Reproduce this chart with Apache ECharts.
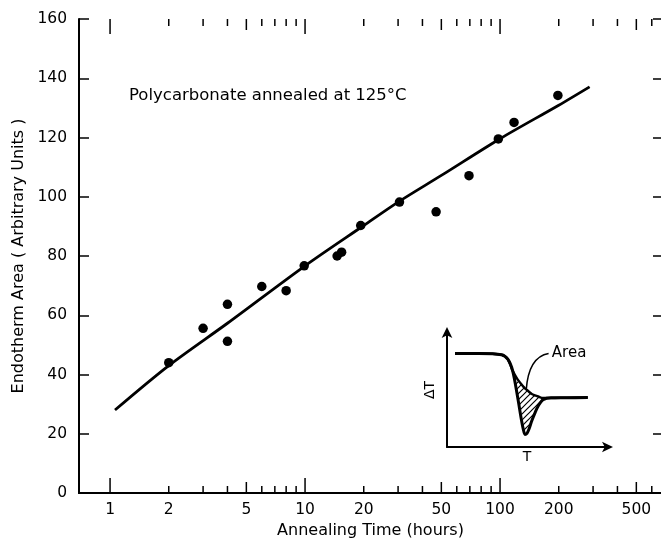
<!DOCTYPE html>
<html>
<head>
<meta charset="utf-8">
<script src="https://cdn.jsdelivr.net/npm/echarts@6/dist/echarts.min.js"></script>
<style>
html,body{margin:0;padding:0;background:#fff;}
#chart{width:661px;height:538px;}
</style>
</head>
<body>
<div id="chart"></div>
<script>
// ---- Main data (annealing time in hours, endotherm area in arbitrary units)
const pointTimes = [2, 3, 4, 4, 6, 8, 9.9, 14.6, 15.4, 19.3, 30.5, 47, 69.3, 98, 118, 198];
const pointAreas = [44, 55.6, 63.7, 51.2, 69.7, 68.3, 76.7, 80, 81.3, 90.3, 98.2, 94.9, 107.1, 119.5, 125.1, 134.2];

const fitTimes = [1.06, 2, 4, 10, 20, 30, 50, 100, 200, 288];
const fitAreas = [28, 43, 57.3, 76.7, 90.3, 98.2, 107.2, 119.6, 130.9, 137.1];

// ---- Axis ticks / labels
const xMajorTicks = [1, 10, 100];
const xMidTicks = [5, 50, 500];
const xMinorTicks = [2, 3, 4, 6, 7, 8, 9, 20, 30, 40, 60, 70, 80, 90, 200, 300, 400, 600];
const xTickLabels = [1, 2, 5, 10, 20, 50, 100, 200, 500];
const yTickLabels = [0, 20, 40, 60, 80, 100, 120, 140, 160];

// ---- Inset (schematic DTA trace)
const insetT = [5, 20, 34, 38, 41, 44, 46.5, 47.7, 48.75, 50, 51.2, 53, 55, 57, 60, 65, 75, 88];
const insetBaseline = [82, 82, 81, 77, 67, 59.5, 55, 53, 51.5, 50, 48.5, 46.5, 45.3, 44.3, 43, 43, 43.3, 43.5];
const insetTrace = [82, 82, 81, 77, 67, 45, 24, 15.5, 11, 12, 15.5, 23, 30, 36, 41.5, 43.3, 43.3, 43.5];
const hatchFrom = 20, hatchTo = 75;   // range of T where the hatched area is built
const leaderPts = [[63.5, 82], [51, 79], [49.5, 50]];
const areaLabelAt = [65.5, 82.5];

const FONT = 'DejaVu Sans';
const chart = echarts.init(document.getElementById('chart'), null, {renderer: 'canvas'});

// hatch pattern
const hatch = document.createElement('canvas');
hatch.width = 6; hatch.height = 6;
(function(){
  const c = hatch.getContext('2d');
  c.fillStyle = '#fff'; c.fillRect(0,0,6,6);
  c.strokeStyle = '#000'; c.lineWidth = 1.2;
  c.beginPath();
  c.moveTo(0,6); c.lineTo(6,0);
  c.moveTo(-3,3); c.lineTo(3,-3);
  c.moveTo(3,9); c.lineTo(9,3);
  c.stroke();
})();

const yMin = 0, yMax = 160;
const tickData = []
  .concat(xMajorTicks.map(v => [v, 0]))
  .concat(xMidTicks.map(v => [v, 1]))
  .concat(xMinorTicks.map(v => [v, 2]));
const tickLens = [15, 11, 7];

const hatchData = insetT.map((x, i) => [x, insetBaseline[i]]).filter(d => d[0] >= hatchFrom && d[0] <= hatchTo);

const option = {
  animation: false,
  backgroundColor: '#fff',
  textStyle: {fontFamily: FONT, color: '#000'},
  grid: [
    {left: 79, top: 19, width: 583, height: 474, outerBoundsMode: 'none', containLabel: false},
    {left: 447, top: 333, width: 160, height: 114, outerBoundsMode: 'none', containLabel: false}
  ],
  xAxis: [
    {type: 'log', logBase: 10, gridIndex: 0, min: 0.693, max: 677, position: 'bottom',
     axisLine: {show: true, lineStyle: {color: '#000', width: 2}},
     axisTick: {show: false}, axisLabel: {show: false}, splitLine: {show: false},
     name: 'Annealing Time (hours)', nameLocation: 'middle', nameGap: 30,
     nameTextStyle: {fontFamily: FONT, fontSize: 16, color: '#000'}},
    {type: 'log', logBase: 10, gridIndex: 0, min: 0.693, max: 677, position: 'top',
     axisLine: {show: true, lineStyle: {color: '#000', width: 2}},
     axisTick: {show: false}, axisLabel: {show: false}, splitLine: {show: false}},
    {type: 'value', gridIndex: 1, min: 0, max: 100,
     axisLine: {show: true, symbol: ['none', 'arrow'], symbolSize: [8, 11], symbolOffset: [0, 6], lineStyle: {color: '#000', width: 2}},
     axisTick: {show: false}, axisLabel: {show: false}, splitLine: {show: false},
     name: 'T', nameLocation: 'middle', nameGap: 3,
     nameTextStyle: {fontFamily: FONT, fontSize: 14, color: '#000', verticalAlign: 'top'}}
  ],
  yAxis: [
    {type: 'value', gridIndex: 0, min: yMin, max: yMax, interval: 20, position: 'left',
     axisLine: {show: true, lineStyle: {color: '#000', width: 2}},
     axisTick: {show: true, inside: true, length: 10, lineStyle: {color: '#000', width: 1.5}},
     axisLabel: {show: true, margin: 12, fontFamily: FONT, fontSize: 15.5, color: '#000',
       formatter: v => (yTickLabels.indexOf(v) >= 0 ? String(v) : '')},
     splitLine: {show: false},
     name: 'Endotherm Area ( Arbitrary Units )', nameLocation: 'middle', nameGap: 52, nameRotate: 90,
     nameTextStyle: {fontFamily: FONT, fontSize: 16, color: '#000'}},
    {type: 'value', gridIndex: 0, min: yMin, max: yMax, interval: 20, position: 'right',
     axisLine: {show: false},
     axisTick: {show: true, inside: true, length: 9, lineStyle: {color: '#000', width: 1.5}},
     axisLabel: {show: false}, splitLine: {show: false}},
    {type: 'value', gridIndex: 1, min: 0, max: 100,
     axisLine: {show: true, symbol: ['none', 'arrow'], symbolSize: [8, 11], symbolOffset: [0, 6], lineStyle: {color: '#000', width: 2}},
     axisTick: {show: false}, axisLabel: {show: false}, splitLine: {show: false},
     name: 'ΔT', nameLocation: 'middle', nameGap: 10, nameRotate: 90,
     nameTextStyle: {fontFamily: FONT, fontSize: 14, color: '#000'}}
  ],
  graphic: [
    {type: 'text', left: 129, top: 87,
     style: {text: 'Polycarbonate annealed at 125°C', font: '16.5px "DejaVu Sans"', fill: '#000'}}
  ],
  series: [
    {type: 'line', name: 'fit', xAxisIndex: 0, yAxisIndex: 0,
     data: fitTimes.map((t, i) => [t, fitAreas[i]]),
     showSymbol: false, smooth: 0.3,
     lineStyle: {color: '#000', width: 2.8}, z: 3},
    {type: 'scatter', name: 'data', xAxisIndex: 0, yAxisIndex: 0,
     data: pointTimes.map((t, i) => [t, pointAreas[i]]),
     symbol: 'circle', symbolSize: 9.5, itemStyle: {color: '#000', opacity: 1}, z: 4},
    {type: 'custom', name: 'xticks', xAxisIndex: 0, yAxisIndex: 0, silent: true, clip: false,
     data: tickData,
     renderItem: function (params, api) {
       const v = api.value(0);
       const len = tickLens[api.value(1)];
       const b = api.coord([v, yMin]);
       const t = api.coord([v, yMax]);
       const st = {stroke: '#000', lineWidth: 1.5};
       return {type: 'group', children: [
         {type: 'line', shape: {x1: b[0], y1: b[1], x2: b[0], y2: b[1] - len}, style: st},
         {type: 'line', shape: {x1: t[0], y1: t[1], x2: t[0], y2: t[1] + len}, style: st}
       ]};
     }},
    {type: 'custom', name: 'xlabels', xAxisIndex: 0, yAxisIndex: 0, silent: true, clip: false,
     data: xTickLabels.map(v => [v, 0]),
     renderItem: function (params, api) {
       const v = api.value(0);
       const b = api.coord([v, yMin]);
       return {type: 'text', x: b[0], y: b[1] + 9,
         style: {text: String(v), font: '15.5px "DejaVu Sans"', fill: '#000', align: 'center', verticalAlign: 'top'}};
     }},
    // inset: hatched area between baseline and trace
    {type: 'line', name: 'hatch', xAxisIndex: 2, yAxisIndex: 2,
     data: hatchData, showSymbol: false, smooth: 0.3,
     lineStyle: {width: 0, opacity: 0},
     areaStyle: {color: {image: hatch, repeat: 'repeat'}, opacity: 1, origin: 5}, z: 2},
    {type: 'line', name: 'trace', xAxisIndex: 2, yAxisIndex: 2,
     data: insetT.map((x, i) => [x, insetTrace[i]]),
     showSymbol: false, smooth: 0.3,
     lineStyle: {color: '#000', width: 3},
     areaStyle: {color: '#fff', opacity: 1, origin: 3}, z: 3},
    {type: 'line', name: 'baseline', xAxisIndex: 2, yAxisIndex: 2,
     data: insetT.map((x, i) => [x, insetBaseline[i]]),
     showSymbol: false, smooth: 0.3,
     lineStyle: {color: '#000', width: 2.4}, z: 4},
    {type: 'custom', name: 'areaNote', xAxisIndex: 2, yAxisIndex: 2, silent: true, clip: false,
     data: [areaLabelAt],
     renderItem: function (params, api) {
       const p0 = api.coord(leaderPts[0]);
       const p1 = api.coord(leaderPts[1]);
       const p2 = api.coord(leaderPts[2]);
       const lab = api.coord([api.value(0), api.value(1)]);
       return {type: 'group', children: [
         {type: 'bezierCurve', shape: {x1: p0[0], y1: p0[1], cpx1: p1[0], cpy1: p1[1], x2: p2[0], y2: p2[1]},
          style: {stroke: '#000', lineWidth: 1.5, fill: null}},
         {type: 'text', x: lab[0], y: lab[1],
          style: {text: 'Area', font: '15px "DejaVu Sans"', fill: '#000', align: 'left', verticalAlign: 'middle'}}
       ]};
     }, z: 5}
  ]
};
chart.setOption(option);
</script>
</body>
</html>
